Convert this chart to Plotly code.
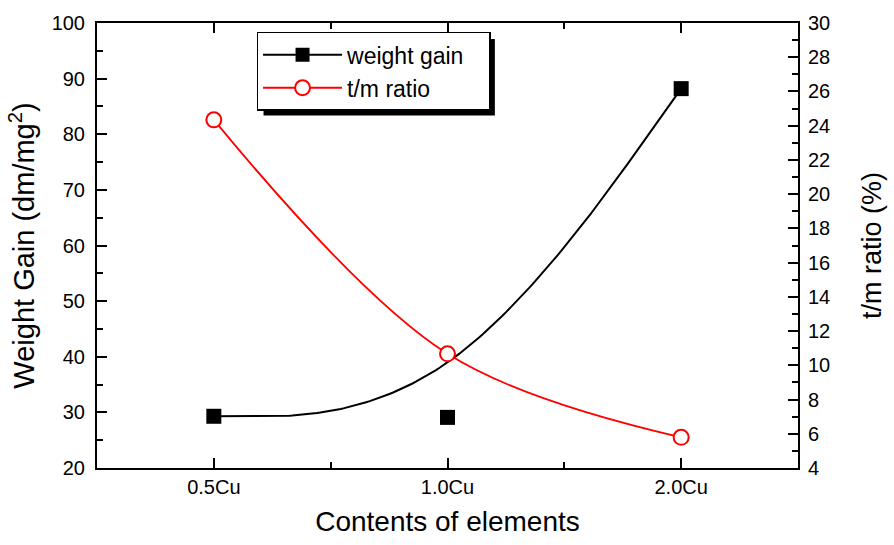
import numpy as np
import plotly.graph_objects as go

categories = ["0.5Cu", "1.0Cu", "2.0Cu"]
weight_gain = [29.3, 29.1, 88.2]
tm_ratio = [24.34, 10.67, 5.79]

xpos = np.arange(len(categories), dtype=float)

# Origin-style clamped uniform cubic B-spline using the weight-gain points as control points
def bspline(xs, ys, n=60):
    qx = [xs[0]] * 2 + list(xs) + [xs[-1]] * 2
    qy = [ys[0]] * 2 + list(ys) + [ys[-1]] * 2
    ox, oy = [], []
    t = np.linspace(0, 1, n)
    b0 = (1 - t) ** 3 / 6
    b1 = (3 * t ** 3 - 6 * t ** 2 + 4) / 6
    b2 = (-3 * t ** 3 + 3 * t ** 2 + 3 * t + 1) / 6
    b3 = t ** 3 / 6
    for i in range(len(qx) - 3):
        ox.extend(b0 * qx[i] + b1 * qx[i + 1] + b2 * qx[i + 2] + b3 * qx[i + 3])
        oy.extend(b0 * qy[i] + b1 * qy[i + 1] + b2 * qy[i + 2] + b3 * qy[i + 3])
    return ox, oy

cx, cy = bspline(xpos, weight_gain)

FONT = "Liberation Sans, Arial, sans-serif"
NB = "\u00a0"

fig = go.Figure()
fig.add_trace(go.Scatter(x=cx, y=cy, mode="lines", line=dict(color="black", width=2),
                         showlegend=False, hoverinfo="skip"))
fig.add_trace(go.Scatter(x=xpos, y=weight_gain, mode="markers",
                         marker=dict(symbol="square", size=15, color="black"),
                         showlegend=False))
fig.add_trace(go.Scatter(x=[None], y=[None], mode="lines+markers", name="weight gain" + NB * 3,
                         line=dict(color="black", width=2),
                         marker=dict(symbol="square", size=14, color="black")))
fig.add_trace(go.Scatter(x=xpos, y=tm_ratio, mode="lines+markers", name="t/m ratio",
                         yaxis="y2", line=dict(color="red", width=1.8, shape="spline"),
                         marker=dict(symbol="circle", size=15, color="white",
                                     line=dict(color="red", width=2))))

fig.update_layout(
    width=894, height=545,
    margin=dict(l=97, r=94, t=21, b=77),
    plot_bgcolor="white", paper_bgcolor="white",
    font=dict(family=FONT, color="black", size=20),
    xaxis=dict(range=[-0.5, 2.5], tickmode="array", tickvals=list(xpos), ticktext=categories,
               ticks="inside", ticklen=10, tickwidth=1.5, tickcolor="black",
               minor=dict(tickmode="linear", tick0=0.5, dtick=1, ticks="inside", ticklen=6,
                          tickwidth=1.5, tickcolor="black"),
               showline=True, linecolor="black", linewidth=2, mirror="ticks",
               showgrid=False, zeroline=False, tickfont=dict(size=20),
               title=dict(text="Contents of elements", font=dict(size=28), standoff=14)),
    yaxis=dict(range=[20, 100], tickmode="linear", tick0=20, dtick=10,
               ticks="inside", ticklen=10, tickwidth=1.5, tickcolor="black",
               minor=dict(dtick=5, ticks="inside", ticklen=6, tickwidth=1.5, tickcolor="black"),
               showline=True, linecolor="black", linewidth=2, ticklabelstandoff=6,
               showgrid=False, zeroline=False, tickfont=dict(size=20),
               title=dict(text="Weight Gain (dm/mg<sup>2</sup>)", font=dict(size=29), standoff=8)),
    yaxis2=dict(range=[4, 30], tickmode="linear", tick0=4, dtick=2, overlaying="y", side="right",
                ticks="inside", ticklen=10, tickwidth=1.5, tickcolor="black",
                minor=dict(dtick=1, ticks="inside", ticklen=6, tickwidth=1.5, tickcolor="black"),
                showline=True, linecolor="black", linewidth=2, ticklabelstandoff=4,
                showgrid=False, zeroline=False, tickfont=dict(size=20),
                title=dict(text="t/m ratio (%)", font=dict(size=27), standoff=33)),
    legend=dict(x=0.2276, y=0.98, xanchor="left", yanchor="top", bgcolor="white",
                bordercolor="black", borderwidth=1.5, font=dict(size=23),
                tracegroupgap=0, itemwidth=79),
    showlegend=True,
)

# drop shadow behind the legend box
fig.add_shape(type="rect", xref="paper", yref="paper",
              x0=(264 - 97) / 703, x1=(496 - 97) / 703,
              y0=(468 - 114) / 447, y1=(468 - 37) / 447,
              fillcolor="black", line=dict(width=0), layer="above")

fig.write_html("out.html")
